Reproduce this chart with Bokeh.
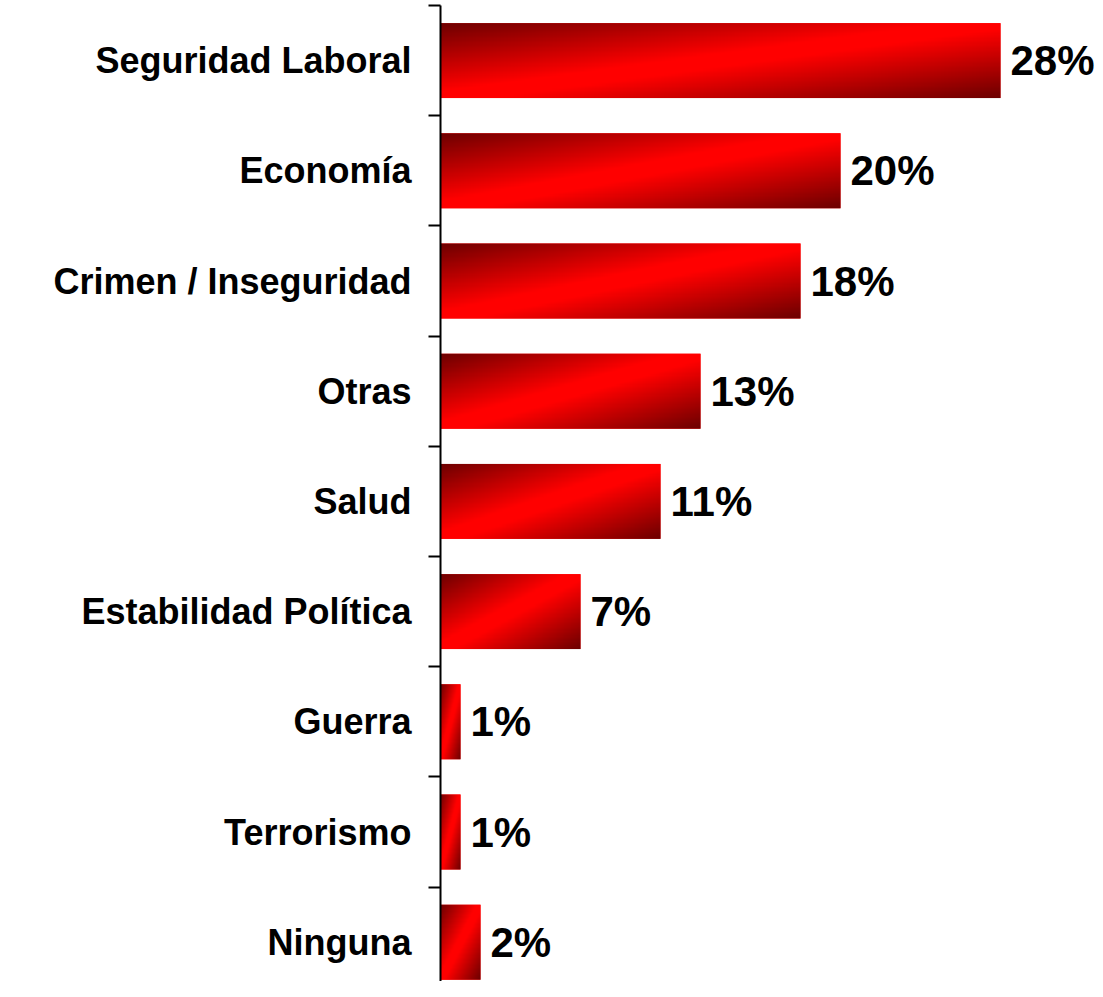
import numpy as np
from bokeh.plotting import figure
from bokeh.models import Range1d, FixedTicker, ColumnDataSource
from bokeh.core.properties import value
from bokeh.embed import file_html
from bokeh.resources import INLINE

categories = ["Seguridad Laboral", "Economía", "Crimen / Inseguridad", "Otras",
              "Salud", "Estabilidad Política", "Guerra", "Terrorismo", "Ninguna"]
values = [28, 20, 18, 13, 11, 7, 1, 1, 2]

n = len(categories)
ypos = [n - 1 - i for i in range(n)]          # top category highest
bar_h = 0.68
labels = [f"{v}%" for v in values]

W, H = 1095, 981
left, top = 440, 5
band_px = 110.2
px_per_pct = 20.0

p = figure(width=W, height=H, output_backend="svg", toolbar_location=None,
           x_range=Range1d(0, (W - left) / px_per_pct),
           y_range=Range1d(n - 0.5 - (H - top) / band_px, n - 0.5),
           x_axis_location=None, min_border_left=left, min_border_right=0,
           min_border_top=top, min_border_bottom=0)
p.outline_line_color = None
p.xgrid.visible = False
p.ygrid.visible = False
p.background_fill_color = "white"

# base bars
src = ColumnDataSource(dict(y=ypos, right=values, cat=categories))
p.hbar(y="y", left=0, right="right", height=bar_h, source=src,
       fill_color="#ff0000", line_color=None)

# diagonal gradient overlay (dark corners top-left / bottom-right)
R, C = 60, 160
u = (np.arange(C) + 0.5) / C
vtop = 1 - (np.arange(R) + 0.5) / R      # row 0 at bottom
t = (u[None, :] + vtop[:, None]) / 2
b = np.clip((1 - np.abs(2 * t - 1)) * 1.1, 0, 1)
dark = 108
red = (dark + (255 - dark) * b).astype(np.uint8)
img = np.zeros((R, C), dtype=np.uint32)
view = img.view(dtype=np.uint8).reshape((R, C, 4))
view[:, :, 0] = red
view[:, :, 1] = 0
view[:, :, 2] = 0
view[:, :, 3] = 255
p.image_rgba(image=[img.copy() for _ in values], x=[0] * n,
             y=[y - bar_h / 2 for y in ypos], dw=values, dh=[bar_h] * n)

# value labels
p.text(x=values, y=ypos, text=labels, x_offset=10, text_align="left",
       text_baseline="middle", text_font=value("Liberation Sans"),
       text_font_style="bold", text_font_size="42px", text_color="black")

ax = p.yaxis[0]
ax.ticker = FixedTicker(ticks=ypos, minor_ticks=[k - 0.5 for k in range(n + 1)])
ax.major_label_overrides = {y: c for y, c in zip(ypos, categories)}
ax.major_tick_out = 0
ax.major_tick_in = 0
ax.minor_tick_out = 12
ax.minor_tick_in = 0
ax.minor_tick_line_color = "black"
ax.minor_tick_line_width = 2
ax.axis_line_color = "black"
ax.axis_line_width = 2
ax.major_label_standoff = 17
ax.major_label_text_font = "Liberation Sans"
ax.major_label_text_font_style = "bold"
ax.major_label_text_font_size = "36px"
ax.major_label_text_color = "black"

open("out.html", "w").write(file_html(p, INLINE))
